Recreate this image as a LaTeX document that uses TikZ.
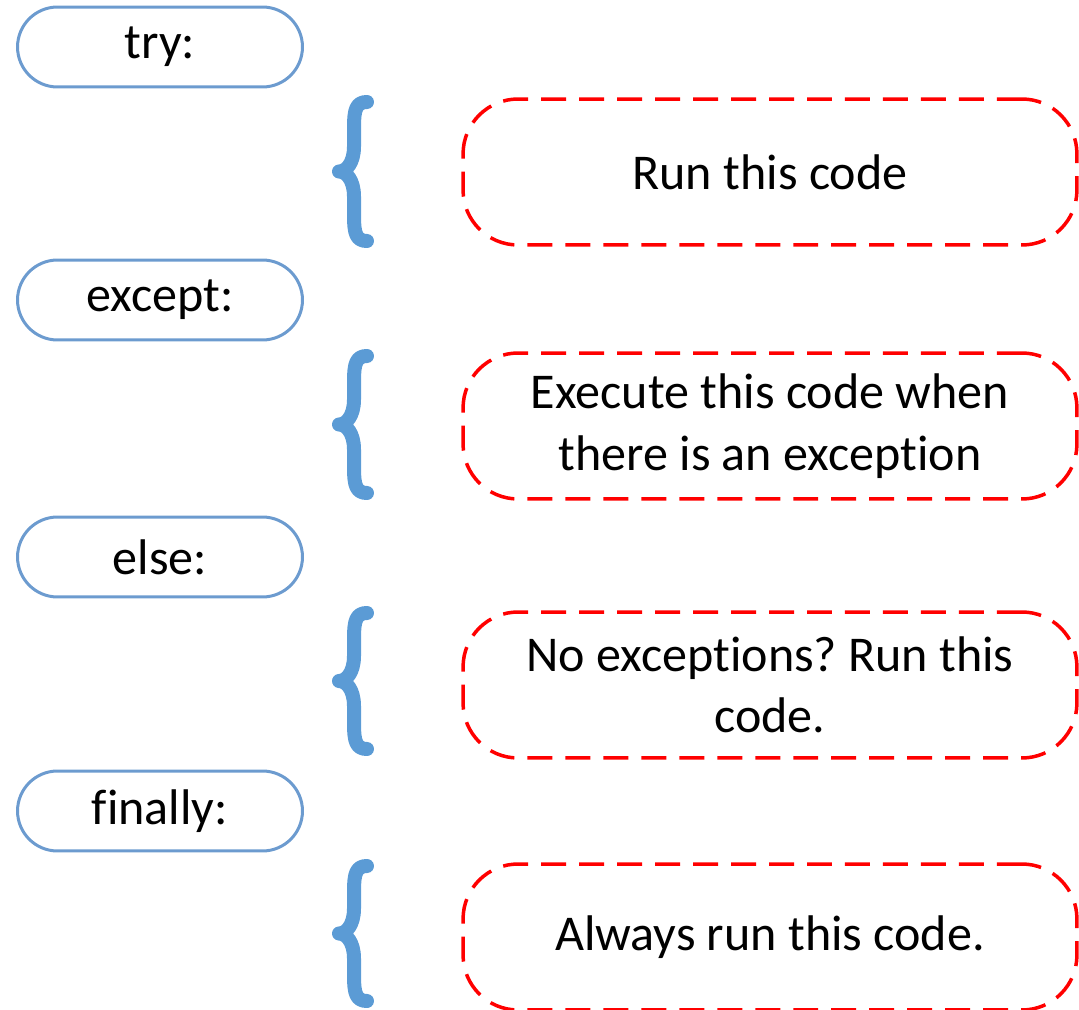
\documentclass[tikz,border=0pt]{standalone}
\usepackage{fontspec}
\setmainfont[Ligatures={NoCommon}]{Carlito}
\frenchspacing
\definecolor{pillblue}{RGB}{108,155,207}
\definecolor{braceblue}{RGB}{91,155,213}
\definecolor{dashred}{RGB}{255,0,0}
\begin{document}
\begin{tikzpicture}[x=0.02cm,y=-0.02cm,
  pill/.style={draw=pillblue, line width=0.06cm, rounded corners=0.8cm,
    minimum width=5.7cm, minimum height=1.6cm, inner sep=0pt,
    font=\fontsize{28.5}{35}\selectfont},
  codebox/.style={draw=dashred, line width=0.07cm, dash pattern=on 0.5cm off 0.26cm,
    rounded corners=1.1cm, minimum width=12.28cm, minimum height=2.92cm,
    inner sep=0pt, align=center, font=\fontsize{28.5}{35}\selectfont},
  bracestyle/.style={draw=braceblue, line width=0.28cm, line cap=round, line join=round}]
\useasboundingbox (0,0) rectangle (1079,1010);
% pills
\node[pill] (try) at (160,47) {try:};
\node[pill] (except) at (160,300) {except:};
\node[pill] (else) at (160,557) {else:};
\node[pill] (finally) at (160,811) {finally:};
% dashed boxes
\node[codebox] (b1) at (770,172) {Run this code};
\node[codebox] (b2) at (770,426) {Execute this code when\\there is an exception};
\node[codebox] (b3) at (770,685) {No exceptions? Run this\\code.};
\node[codebox] (b4) at (770,937) {Always run this code.};
% braces
\foreach \t/\b in {102/241, 356/493, 613/749, 866/1001}{
  \pgfmathsetmacro{\m}{(\t+\b)/2}
  \draw[bracestyle] (367,\t) .. controls (356,\t) and (354,\t+8) .. (354,\t+25)
    -- (354,\m-25) .. controls (354,\m-8) and (346,\m) .. (339,\m)
    .. controls (346,\m) and (354,\m+8) .. (354,\m+25)
    -- (354,\b-25) .. controls (354,\b-8) and (356,\b) .. (367,\b);
}
\end{tikzpicture}
\end{document}
